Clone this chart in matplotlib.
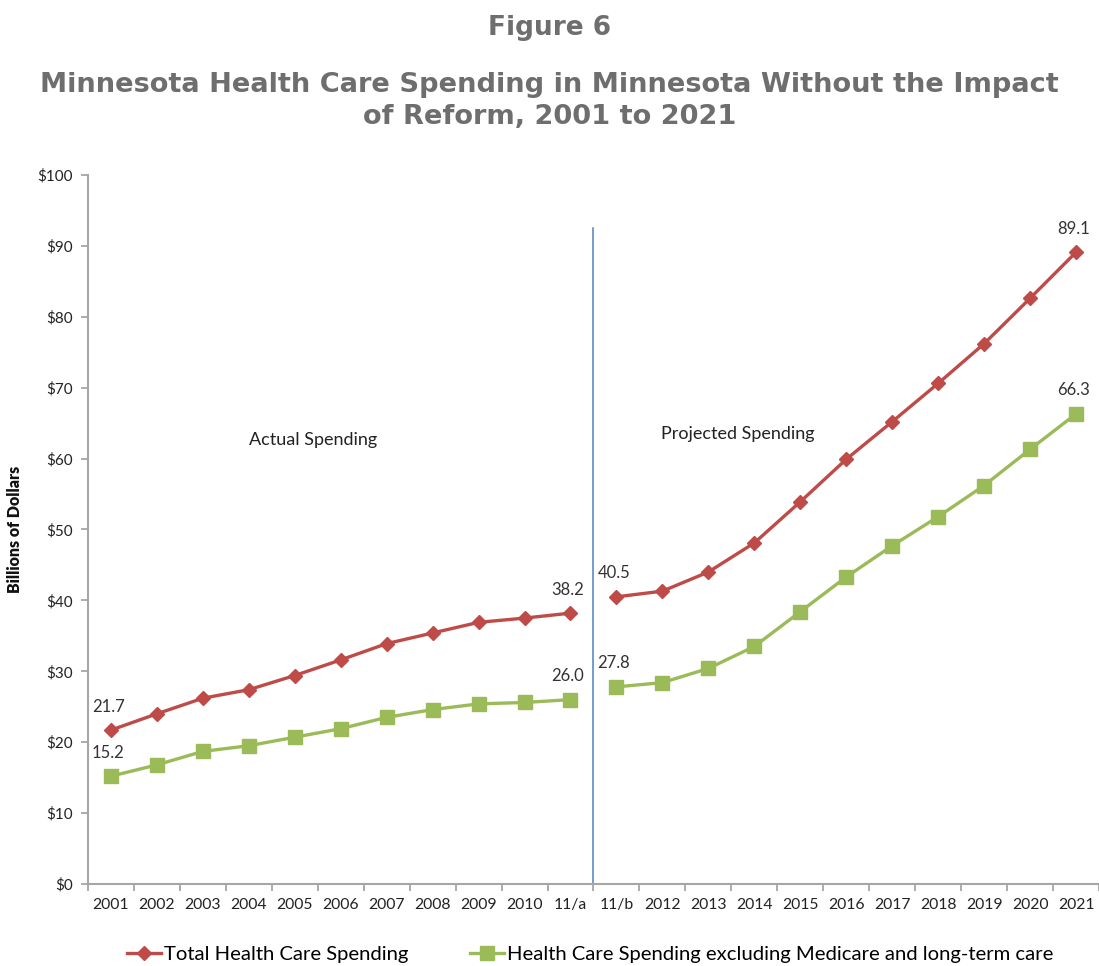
import matplotlib.pyplot as plt
import numpy as np

# Categories (the 2011 year is split into an actual and a projected point)
categories = ['2001', '2002', '2003', '2004', '2005', '2006', '2007', '2008', '2009', '2010', '11/a',
              '11/b', '2012', '2013', '2014', '2015', '2016', '2017', '2018', '2019', '2020', '2021']

# Billions of dollars
total_actual = [21.7, 24.0, 26.2, 27.4, 29.4, 31.6, 33.9, 35.4, 36.9, 37.5, 38.2]
total_proj = [40.5, 41.3, 44.0, 48.1, 53.9, 59.9, 65.2, 70.6, 76.2, 82.6, 89.1]
excl_actual = [15.2, 16.8, 18.7, 19.5, 20.7, 21.9, 23.5, 24.6, 25.4, 25.6, 26.0]
excl_proj = [27.8, 28.4, 30.4, 33.5, 38.4, 43.3, 47.7, 51.8, 56.2, 61.3, 66.3]

yticks = [0, 10, 20, 30, 40, 50, 60, 70, 80, 90, 100]
ytick_labels = ['$' + str(v) for v in yticks]

red = '#BE4B48'
green = '#9BBB59'
blue = '#4F81BD'
axis_grey = '#A6A6A6'
title_grey = '#6E6E6E'

plt.rcParams['font.family'] = ['Lato', 'DejaVu Sans']

fig = plt.figure(figsize=(10.99, 9.66), dpi=100)
ax = fig.add_axes([0.080, 0.0849, 0.92, 0.734])

x = np.arange(len(categories))
n_act = len(total_actual)
xa = x[:n_act]
xp = x[n_act:]

ax.plot(xa, total_actual, color=red, lw=2.4, marker='D', ms=7.5, label='Total Health Care Spending')
ax.plot(xp, total_proj, color=red, lw=2.4, marker='D', ms=7.5)
ax.plot(xa, excl_actual, color=green, lw=2.4, marker='s', ms=10,
        label='Health Care Spending excluding Medicare and long-term care')
ax.plot(xp, excl_proj, color=green, lw=2.4, marker='s', ms=10)

# divider between actual and projected
ax.plot([n_act - 0.5, n_act - 0.5], [0, 92.5], color=blue, lw=1.1)

# end-point labels
for xs, ys in [(xa, total_actual), (xp, total_proj), (xa, excl_actual), (xp, excl_proj)]:
    for i in (0, -1):
        ax.annotate(f'{ys[i]:.1f}', (xs[i], ys[i]), xytext=(-2, 17), textcoords='offset points',
                    ha='center', va='center', fontsize=12, color='#333333')

ax.text(4.4, 62.6, 'Actual Spending', ha='center', va='center', fontsize=13, color='#222222')
ax.text(13.65, 63.5, 'Projected Spending', ha='center', va='center', fontsize=13, color='#222222')

ax.set_xlim(-0.5, len(categories) - 0.5)
ax.set_ylim(0, 100)
ax.set_yticks(yticks)
ax.set_yticklabels(ytick_labels, fontsize=11, color='#222222')
ax.set_xticks(np.arange(-0.5, len(categories)), minor=False)
ax.set_xticklabels([])
ax.set_xticks(x, minor=True)
ax.set_xticklabels(categories, minor=True, fontsize=11.3, color='#222222')
ax.tick_params(axis='x', which='major', length=5, color=axis_grey, width=1.3)
ax.tick_params(axis='x', which='minor', length=0, pad=10)
ax.tick_params(axis='y', length=5, color=axis_grey, width=1.3, pad=6)

for s in ['top', 'right']:
    ax.spines[s].set_visible(False)
for s in ['left', 'bottom']:
    ax.spines[s].set_color(axis_grey)
    ax.spines[s].set_linewidth(1.5)

ax.set_ylabel('Billions of Dollars', fontsize=11.5, fontweight='heavy', color='#111111', labelpad=10)

fig.text(0.5, 0.971, 'Figure 6', ha='center', va='center', fontsize=19, fontweight='bold',
         color=title_grey, family='DejaVu Sans')
fig.text(0.5, 0.895, 'Minnesota Health Care Spending in Minnesota Without the Impact\nof Reform, 2001 to 2021',
         ha='center', va='center', fontsize=19.6, fontweight='bold', color=title_grey,
         family='DejaVu Sans', linespacing=1.3)

fig.legend(loc='center', bbox_to_anchor=(0.537, 0.0124), ncol=2, frameon=False, fontsize=14.6,
           handlelength=1.7, handletextpad=0.15, columnspacing=3.0)

plt.savefig('out.png', dpi=100)
